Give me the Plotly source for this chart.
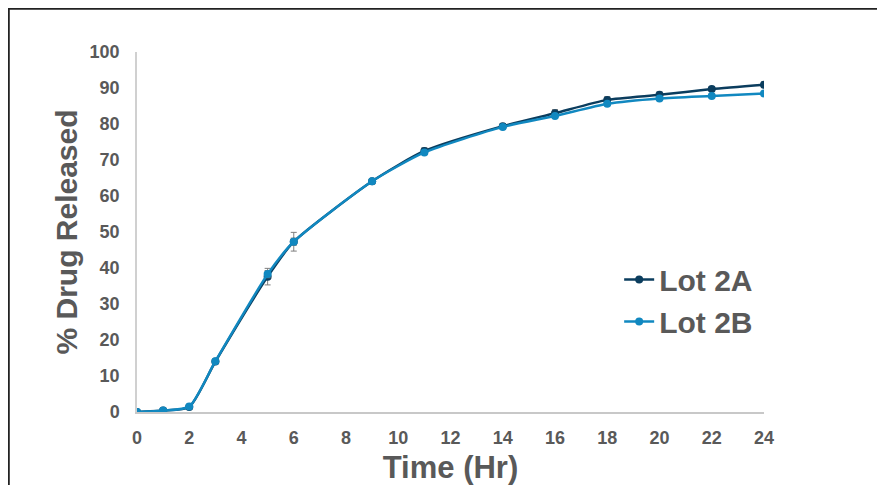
import plotly.graph_objects as go

time_hr = [0, 1, 2, 3, 5, 6, 9, 11, 14, 16, 18, 20, 22, 24]
lot_2a = [0.0, 0.4, 1.4, 14.0, 37.6, 47.3, 64.1, 72.5, 79.4, 83.0, 86.7, 88.1, 89.7, 90.9]
lot_2a_err = [0.0, 0.2, 0.3, 0.5, 2.3, 2.6, 0.6, 0.9, 0.7, 1.0, 0.9, 0.8, 0.6, 0.8]
lot_2b = [0.0, 0.4, 1.5, 14.1, 38.3, 47.3, 64.1, 72.1, 79.2, 82.2, 85.6, 87.1, 87.8, 88.5]
lot_2b_err = [0.0, 0.2, 0.3, 0.4, 1.0, 1.0, 0.5, 0.5, 0.5, 0.5, 0.5, 0.5, 0.5, 0.5]

x_ticks = list(range(0, 25, 2))
y_ticks = list(range(0, 101, 10))

c_2a = "#0b3d5e"
c_2b = "#1188c0"
txt = "#595959"
font_family = "Liberation Sans, Arial, sans-serif"

fig = go.Figure()
fig.add_trace(go.Scatter(
    x=time_hr, y=lot_2a, name="Lot 2A", mode="lines+markers",
    line=dict(color=c_2a, width=2.5, shape="spline", smoothing=0.6),
    marker=dict(color=c_2a, size=8),
    error_y=dict(type="data", array=lot_2a_err, color="#7f7f7f", thickness=1, width=3),
))
fig.add_trace(go.Scatter(
    x=time_hr, y=lot_2b, name="Lot 2B", mode="lines+markers",
    line=dict(color=c_2b, width=2.5, shape="spline", smoothing=0.6),
    marker=dict(color=c_2b, size=8),
    error_y=dict(type="data", array=lot_2b_err, color="#7f7f7f", thickness=1, width=3),
))

fig.update_layout(
    width=885, height=485,
    margin=dict(l=129, r=129, t=44, b=81),
    paper_bgcolor="white", plot_bgcolor="white",
    font=dict(family=font_family, color=txt),
    showlegend=True,
    legend=dict(
        x=0.769, y=0.31, xanchor="left", yanchor="middle",
        font=dict(size=30, color=txt, family=font_family, weight="bold"),
        bgcolor="rgba(0,0,0,0)", itemwidth=30,
    ),
    xaxis=dict(
        range=[0, 24], tickvals=x_ticks, ticktext=[str(v) for v in x_ticks],
        showgrid=False, zeroline=False, showline=True, linecolor="#c8c8c8", linewidth=1.5,
        ticks="", ticklabelstandoff=9,
        tickfont=dict(size=18, color=txt, weight="bold"),
        title=dict(text="Time (Hr)", font=dict(size=31, color=txt, weight="bold"), standoff=9),
    ),
    yaxis=dict(
        range=[0, 100], tickvals=y_ticks, ticktext=[str(v) for v in y_ticks],
        showgrid=False, zeroline=False, showline=True, linecolor="#d0d0d0", linewidth=1.5,
        ticks="", ticklabelstandoff=12,
        tickfont=dict(size=18, color=txt, weight="bold"),
        title=dict(text="% Drug Released", font=dict(size=30, color=txt, weight="bold"), standoff=3),
    ),
    shapes=[
        dict(type="line", xref="paper", yref="paper", x0=-0.2057, x1=1.25, y0=1.12, y1=1.12,
             line=dict(color="#222222", width=2)),
        dict(type="line", xref="paper", yref="paper", x0=-0.2045, x1=-0.2045, y0=1.125, y1=-0.25,
             line=dict(color="#222222", width=2)),
    ],
)

fig.write_html("out.html")
